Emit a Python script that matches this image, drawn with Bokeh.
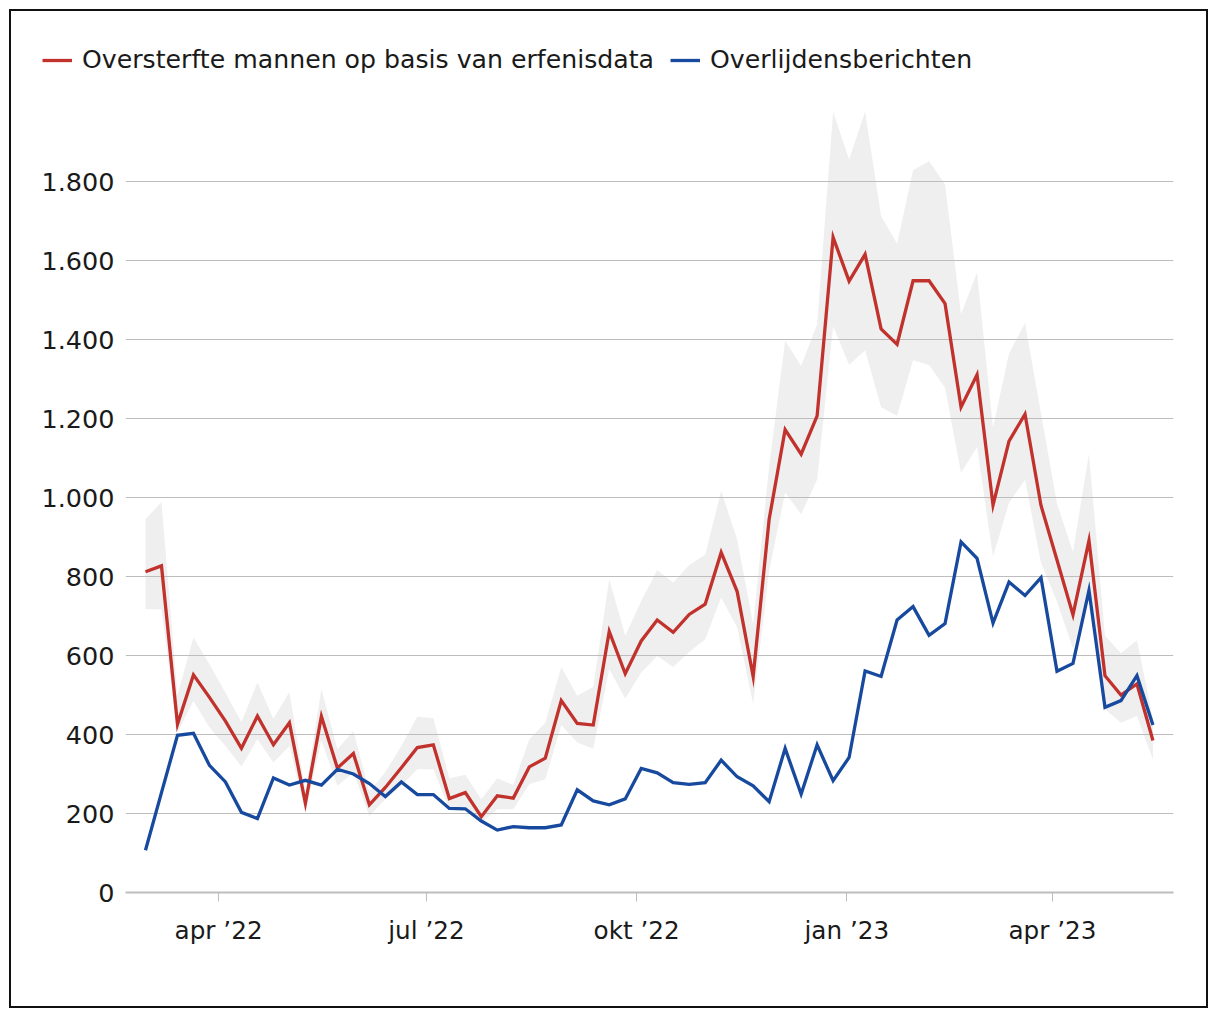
import pandas as pd
from bokeh.plotting import figure
from bokeh.layouts import column
from bokeh.models import Range1d, FixedTicker, Legend, LegendItem, ColumnDataSource
from bokeh.embed import file_html
from bokeh.resources import INLINE

# Weekly data, first week starting Monday 28 Feb 2022
weeks = pd.date_range("2022-02-28", periods=64, freq="7D")

excess_men = [812, 827, 426, 551, 494, 434, 365, 447, 374, 430,
              226, 446, 315, 352, 222, 266, 316, 367, 374, 238,
              253, 192, 245, 239, 318, 340, 486, 428, 424, 661,
              554, 637, 690, 659, 704, 730, 861, 762, 547, 945,
              1172, 1110, 1207, 1659, 1548, 1616, 1427, 1388, 1549, 1549,
              1491, 1229, 1311, 981, 1143, 1211, 980, 842, 703, 891,
              549, 500, 528, 385]

excess_high = [945, 989, 500, 646, 578, 506, 432, 532, 440, 508,
               255, 516, 363, 409, 255, 305, 371, 445, 441, 289,
               298, 236, 289, 272, 388, 430, 571, 498, 521, 793,
               650, 738, 816, 785, 829, 855, 1017, 894, 679, 1080,
               1397, 1333, 1439, 1977, 1856, 1977, 1713, 1643, 1829, 1852,
               1793, 1464, 1570, 1177, 1365, 1442, 1213, 985, 862, 1111,
               650, 606, 639, 440]

excess_low = [717, 717, 405, 485, 418, 371, 319, 388, 329, 371,
              202, 385, 270, 304, 194, 236, 270, 312, 312, 211,
              218, 177, 211, 211, 274, 287, 424, 380, 364, 565,
              491, 557, 599, 571, 609, 641, 747, 671, 477, 815,
              1013, 958, 1046, 1434, 1336, 1373, 1229, 1207, 1348, 1336,
              1278, 1063, 1128, 850, 987, 1045, 835, 736, 618, 760,
              464, 430, 447, 337]

obituaries = [107, 253, 398, 403, 322, 280, 203, 187, 290, 272,
              284, 272, 312, 300, 276, 243, 280, 248, 248, 213,
              212, 181, 158, 167, 164, 164, 171, 260, 232, 222,
              237, 314, 303, 278, 274, 278, 335, 293, 270, 230,
              365, 249, 374, 283, 342, 561, 547, 690, 724, 651,
              681, 888, 846, 682, 786, 752, 797, 560, 580, 765,
              469, 486, 549, 424]

series_labels = ["Oversterfte mannen op basis van erfenisdata", "Overlijdensberichten"]
y_ticks = [0, 200, 400, 600, 800, 1000, 1200, 1400, 1600, 1800]
x_tick_dates = ["2022-04-01", "2022-07-01", "2022-10-01", "2023-01-01", "2023-04-01"]
x_tick_labels = ["apr \u201922", "jul \u201922", "okt \u201922", "jan \u201923", "apr \u201923"]

RED = "#c1322d"
BLUE = "#174a9e"
BAND = "#efefef"
GRID = "#bdbdbd"
TEXT = "#1a1a1a"
FONT = "DejaVu Sans"
FS = "24.7px"
LW = 3.3

W = 1195
LEG_H = 88
MAIN_H = 907

src = ColumnDataSource(dict(week=weeks, men=excess_men, lo=excess_low,
                            hi=excess_high, obit=obituaries))

x_start = weeks[0] - pd.Timedelta(days=8.75)
x_end = weeks[0] + pd.Timedelta(days=450)

# ---- main chart ----
p = figure(width=W, height=MAIN_H, x_axis_type="datetime", title=None,
           x_range=Range1d(x_start, x_end), y_range=Range1d(0, 2008),
           output_backend="svg", toolbar_location=None,
           min_border_left=114, min_border_right=33,
           min_border_top=0, min_border_bottom=114)
p.outline_line_color = None
p.background_fill_color = "white"
p.border_fill_color = "white"
p.frame_align = False

p.varea(x="week", y1="lo", y2="hi", source=src, fill_color=BAND, level="image")
p.line(x="week", y="men", source=src, line_color=RED, line_width=LW,
       line_join="miter")
p.line(x="week", y="obit", source=src, line_color=BLUE, line_width=LW,
       line_join="miter")

p.xgrid.visible = False
p.ygrid.ticker = FixedTicker(ticks=y_ticks)
p.ygrid.grid_line_color = GRID
p.ygrid.grid_line_width = 1

p.yaxis.ticker = FixedTicker(ticks=y_ticks)
p.yaxis.major_label_overrides = {v: f"{v:,}".replace(",", ".") for v in y_ticks}
p.yaxis.axis_line_color = None
p.yaxis.major_tick_line_color = None
p.yaxis.minor_tick_line_color = None
p.yaxis.major_tick_in = 0
p.yaxis.major_tick_out = 0
p.yaxis.minor_tick_in = 0
p.yaxis.minor_tick_out = 0
p.yaxis.major_label_standoff = 11
p.yaxis.major_label_text_font = FONT
p.yaxis.major_label_text_font_size = "25.5px"
p.yaxis.major_label_text_color = TEXT

x_ticks = [int(pd.Timestamp(d).value // 10**6) for d in x_tick_dates]
p.xaxis.ticker = FixedTicker(ticks=x_ticks)
p.xaxis.major_label_overrides = dict(zip(x_ticks, x_tick_labels))
p.xaxis.axis_line_color = GRID
p.xaxis.axis_line_width = 2
p.xaxis.major_tick_line_color = GRID
p.xaxis.major_tick_line_width = 1
p.xaxis.major_tick_in = 0
p.xaxis.major_tick_out = 9
p.xaxis.minor_tick_line_color = None
p.xaxis.major_label_standoff = 14
p.xaxis.major_label_text_font = FONT
p.xaxis.major_label_text_font_size = FS
p.xaxis.major_label_text_color = TEXT

# ---- legend strip (series drawn off-range, only their legend keys show) ----
lf = figure(width=W, height=LEG_H, title=None, output_backend="svg",
            toolbar_location=None, x_axis_location=None, y_axis_location=None,
            x_range=Range1d(0, 1), y_range=Range1d(0, 1), min_border=0)
lf.frame_align = False
lf.outline_line_color = None
lf.grid.visible = False
lf.border_fill_color = "white"
k_red = lf.line(x="week", y="men", source=src, line_color=RED, line_width=LW)
k_blue = lf.line(x="week", y="obit", source=src, line_color=BLUE, line_width=LW)
legend = Legend(items=[LegendItem(label=series_labels[0], renderers=[k_red]),
                       LegendItem(label=series_labels[1], renderers=[k_blue])],
                orientation="horizontal", location=(31, 25),
                label_text_font=FONT, label_text_font_size="25.2px",
                label_text_color=TEXT, glyph_width=30, glyph_height=26,
                label_standoff=10, spacing=16, padding=0, margin=0,
                border_line_color=None, background_fill_alpha=0)
lf.add_layout(legend)

layout = column(lf, p, spacing=0,
                styles={"border": "2px solid #111", "margin": "9px 0 0 9px"})

open("out.html", "w").write(file_html(layout, INLINE))
